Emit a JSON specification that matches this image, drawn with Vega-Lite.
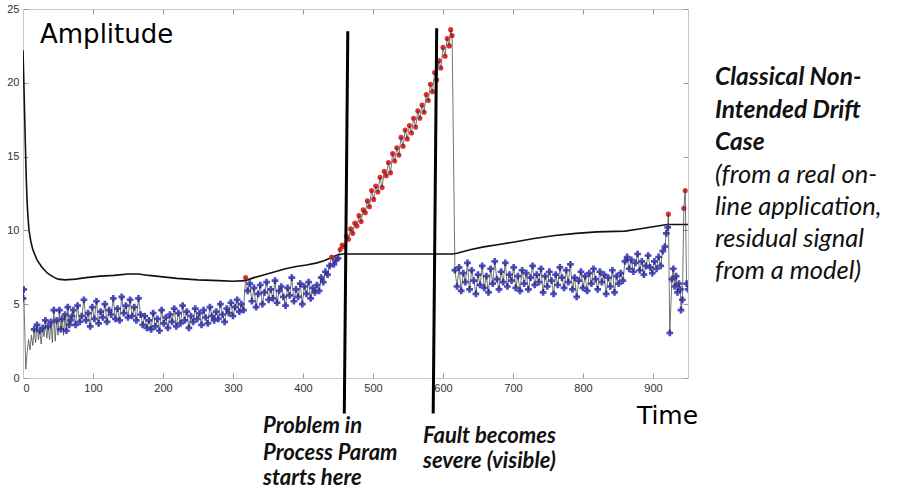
{
"$schema": "https://vega.github.io/schema/vega-lite/v6.json",
"width": 665, "height": 369,
"autosize": {"type": "none"},
"padding": {"left": 23, "top": 9, "right": 209, "bottom": 113},
"background": "white",
"config": {"view": {"stroke": "#c8c8c8", "strokeWidth": 1}},
"datasets": {
"lim": [
{"t":0,"v":22.2},{"t":1.5,"v":19.5},{"t":3,"v":16.5},{"t":4.5,"v":13.8},{"t":5.7,"v":12.1},{"t":7,"v":11},{"t":8.6,"v":10.0},{"t":11,"v":9.3},{"t":14,"v":8.7},{"t":20,"v":8.0},{"t":27,"v":7.5},{"t":35,"v":7.1},{"t":43,"v":6.85},{"t":50,"v":6.7},{"t":60,"v":6.65},{"t":75,"v":6.7},{"t":90,"v":6.8},{"t":110,"v":6.9},{"t":130,"v":6.95},{"t":150,"v":7.05},{"t":165,"v":7.05},{"t":180,"v":6.95},{"t":200,"v":6.85},{"t":220,"v":6.75},{"t":250,"v":6.65},{"t":280,"v":6.6},{"t":300,"v":6.55},{"t":318,"v":6.6},{"t":330,"v":6.8},{"t":345,"v":7.0},{"t":360,"v":7.2},{"t":375,"v":7.4},{"t":390,"v":7.55},{"t":405,"v":7.65},{"t":420,"v":7.8},{"t":430,"v":7.95},{"t":440,"v":8.15},{"t":450,"v":8.35},{"t":456,"v":8.4},{"t":614,"v":8.4},{"t":620,"v":8.45},{"t":640,"v":8.7},{"t":660,"v":8.9},{"t":680,"v":9.05},{"t":700,"v":9.2},{"t":730,"v":9.45},{"t":760,"v":9.65},{"t":790,"v":9.8},{"t":820,"v":9.9},{"t":860,"v":9.95},{"t":880,"v":10.1},{"t":900,"v":10.25},{"t":920,"v":10.4},{"t":950,"v":10.4}
],
"sig": [
{"t":0,"v":5.4,"c":"ok"},{"t":1,"v":6.0,"c":"ok"},{"t":4,"v":0.6,"c":"low"},{"t":6,"v":1.8,"c":"low"},{"t":8,"v":2.6,"c":"low"},{"t":10,"v":1.9,"c":"low"},{"t":12,"v":2.9,"c":"low"},{"t":14,"v":2.2,"c":"low"},{"t":16,"v":3.3,"c":"ok"},{"t":18,"v":2.4,"c":"low"},{"t":20,"v":3.6,"c":"ok"},{"t":22,"v":2.6,"c":"low"},{"t":24,"v":3.2,"c":"ok"},{"t":26,"v":2.3,"c":"low"},{"t":28,"v":3.4,"c":"ok"},{"t":30,"v":2.8,"c":"low"},{"t":32,"v":3.9,"c":"ok"},{"t":34,"v":2.7,"c":"low"},{"t":36,"v":3.5,"c":"ok"},{"t":38,"v":2.6,"c":"low"},{"t":40,"v":3.8,"c":"ok"},{"t":42,"v":2.4,"c":"low"},{"t":44,"v":4.6,"c":"ok"},{"t":46,"v":2.5,"c":"low"},{"t":48,"v":3.9,"c":"ok"},{"t":50,"v":2.9,"c":"low"},{"t":52,"v":4.6,"c":"ok"},{"t":54,"v":3.3,"c":"ok"},{"t":56,"v":4.0,"c":"ok"},{"t":58,"v":2.9,"c":"low"},{"t":60,"v":4.3,"c":"ok"},{"t":62,"v":3.2,"c":"ok"},{"t":64,"v":4.8,"c":"ok"},{"t":66,"v":3.6,"c":"ok"},{"t":68,"v":3.9,"c":"ok"},{"t":70,"v":4.2,"c":"ok"},
{"t":72,"v":4.6,"c":"ok"},{"t":75,"v":3.6,"c":"ok"},{"t":78,"v":4.9,"c":"ok"},{"t":81,"v":3.8,"c":"ok"},{"t":84,"v":4.2,"c":"ok"},{"t":87,"v":5.3,"c":"ok"},{"t":90,"v":3.9,"c":"ok"},{"t":93,"v":4.4,"c":"ok"},{"t":96,"v":3.5,"c":"ok"},{"t":99,"v":4.8,"c":"ok"},{"t":102,"v":4.0,"c":"ok"},{"t":105,"v":5.2,"c":"ok"},{"t":108,"v":3.7,"c":"ok"},{"t":111,"v":4.5,"c":"ok"},{"t":114,"v":4.1,"c":"ok"},{"t":117,"v":5.0,"c":"ok"},{"t":120,"v":3.8,"c":"ok"},{"t":123,"v":4.6,"c":"ok"},{"t":126,"v":4.3,"c":"ok"},{"t":129,"v":5.4,"c":"ok"},{"t":132,"v":4.0,"c":"ok"},{"t":135,"v":4.7,"c":"ok"},{"t":138,"v":3.9,"c":"ok"},{"t":141,"v":5.5,"c":"ok"},{"t":144,"v":4.4,"c":"ok"},{"t":147,"v":4.9,"c":"ok"},{"t":150,"v":4.1,"c":"ok"},{"t":153,"v":5.3,"c":"ok"},{"t":156,"v":4.2,"c":"ok"},{"t":159,"v":4.8,"c":"ok"},{"t":162,"v":3.9,"c":"ok"},{"t":165,"v":5.4,"c":"ok"},{"t":168,"v":4.3,"c":"ok"},
{"t":171,"v":3.6,"c":"ok"},{"t":174,"v":4.2,"c":"ok"},{"t":177,"v":3.4,"c":"ok"},{"t":180,"v":3.9,"c":"ok"},{"t":183,"v":3.3,"c":"ok"},{"t":186,"v":4.4,"c":"ok"},{"t":189,"v":3.5,"c":"ok"},{"t":192,"v":4.0,"c":"ok"},{"t":195,"v":3.2,"c":"ok"},{"t":198,"v":4.6,"c":"ok"},{"t":201,"v":3.7,"c":"ok"},{"t":204,"v":4.1,"c":"ok"},{"t":207,"v":3.4,"c":"ok"},{"t":210,"v":4.3,"c":"ok"},{"t":213,"v":3.8,"c":"ok"},{"t":216,"v":4.7,"c":"ok"},{"t":219,"v":3.5,"c":"ok"},
{"t":222,"v":4.4,"c":"ok"},{"t":225,"v":3.7,"c":"ok"},{"t":228,"v":4.9,"c":"ok"},{"t":231,"v":3.9,"c":"ok"},{"t":234,"v":4.5,"c":"ok"},{"t":237,"v":3.4,"c":"ok"},{"t":240,"v":4.2,"c":"ok"},{"t":243,"v":3.8,"c":"ok"},{"t":246,"v":4.7,"c":"ok"},{"t":249,"v":4.0,"c":"ok"},{"t":252,"v":4.4,"c":"ok"},{"t":255,"v":3.6,"c":"ok"},{"t":258,"v":4.6,"c":"ok"},{"t":261,"v":4.1,"c":"ok"},{"t":264,"v":3.7,"c":"ok"},{"t":267,"v":4.8,"c":"ok"},{"t":270,"v":4.2,"c":"ok"},{"t":273,"v":3.9,"c":"ok"},{"t":276,"v":4.5,"c":"ok"},{"t":279,"v":4.0,"c":"ok"},{"t":282,"v":5.0,"c":"ok"},{"t":285,"v":4.3,"c":"ok"},{"t":288,"v":3.8,"c":"ok"},{"t":291,"v":4.7,"c":"ok"},{"t":294,"v":4.4,"c":"ok"},{"t":297,"v":5.1,"c":"ok"},{"t":300,"v":4.2,"c":"ok"},{"t":303,"v":4.8,"c":"ok"},{"t":306,"v":5.3,"c":"ok"},{"t":309,"v":4.5,"c":"ok"},{"t":312,"v":5.0,"c":"ok"},{"t":315,"v":4.6,"c":"ok"},{"t":318,"v":6.8,"c":"alarm"},
{"t":321,"v":5.9,"c":"ok"},{"t":324,"v":6.4,"c":"ok"},{"t":327,"v":5.2,"c":"ok"},{"t":330,"v":6.1,"c":"ok"},{"t":333,"v":4.8,"c":"ok"},{"t":336,"v":5.7,"c":"ok"},{"t":339,"v":6.3,"c":"ok"},{"t":342,"v":5.0,"c":"ok"},{"t":345,"v":5.8,"c":"ok"},{"t":348,"v":6.5,"c":"ok"},{"t":351,"v":5.3,"c":"ok"},{"t":354,"v":6.0,"c":"ok"},{"t":357,"v":5.4,"c":"ok"},{"t":360,"v":6.6,"c":"ok"},{"t":363,"v":5.1,"c":"ok"},{"t":366,"v":5.9,"c":"ok"},{"t":369,"v":6.2,"c":"ok"},{"t":372,"v":5.5,"c":"ok"},{"t":375,"v":4.9,"c":"ok"},{"t":378,"v":6.1,"c":"ok"},{"t":381,"v":5.6,"c":"ok"},{"t":384,"v":6.8,"c":"ok"},{"t":387,"v":5.2,"c":"ok"},{"t":390,"v":6.0,"c":"ok"},{"t":393,"v":5.5,"c":"ok"},{"t":396,"v":6.4,"c":"ok"},{"t":399,"v":5.0,"c":"ok"},{"t":402,"v":6.2,"c":"ok"},{"t":405,"v":5.7,"c":"ok"},{"t":408,"v":6.5,"c":"ok"},{"t":411,"v":5.4,"c":"ok"},{"t":414,"v":6.1,"c":"ok"},{"t":417,"v":5.8,"c":"ok"},{"t":420,"v":6.3,"c":"ok"},{"t":423,"v":5.9,"c":"ok"},{"t":426,"v":6.8,"c":"ok"},{"t":429,"v":6.5,"c":"ok"},{"t":432,"v":7.2,"c":"ok"},{"t":435,"v":7.0,"c":"ok"},{"t":438,"v":7.6,"c":"ok"},{"t":441,"v":8.2,"c":"alarm"},{"t":444,"v":7.7,"c":"ok"},{"t":447,"v":8.0,"c":"ok"},{"t":450,"v":8.1,"c":"ok"},
{"t":453,"v":8.7,"c":"alarm"},{"t":456,"v":9.0,"c":"alarm"},{"t":459,"v":8.9,"c":"alarm"},{"t":462,"v":9.6,"c":"alarm"},{"t":465,"v":9.4,"c":"alarm"},{"t":468,"v":10.1,"c":"alarm"},{"t":471,"v":9.8,"c":"alarm"},{"t":474,"v":10.5,"c":"alarm"},{"t":477,"v":10.3,"c":"alarm"},{"t":480,"v":11.0,"c":"alarm"},{"t":483,"v":10.6,"c":"alarm"},{"t":486,"v":11.4,"c":"alarm"},{"t":489,"v":11.2,"c":"alarm"},{"t":492,"v":12.0,"c":"alarm"},{"t":495,"v":11.6,"c":"alarm"},{"t":498,"v":12.7,"c":"alarm"},{"t":501,"v":12.1,"c":"alarm"},{"t":504,"v":13.0,"c":"alarm"},{"t":507,"v":12.6,"c":"alarm"},{"t":510,"v":13.6,"c":"alarm"},{"t":513,"v":12.9,"c":"alarm"},{"t":516,"v":14.0,"c":"alarm"},{"t":519,"v":13.7,"c":"alarm"},{"t":522,"v":14.6,"c":"alarm"},{"t":525,"v":13.9,"c":"alarm"},{"t":528,"v":15.2,"c":"alarm"},{"t":531,"v":14.7,"c":"alarm"},{"t":534,"v":15.6,"c":"alarm"},{"t":537,"v":15.1,"c":"alarm"},{"t":540,"v":16.3,"c":"alarm"},{"t":543,"v":15.7,"c":"alarm"},{"t":546,"v":16.8,"c":"alarm"},{"t":549,"v":16.2,"c":"alarm"},{"t":552,"v":17.1,"c":"alarm"},{"t":555,"v":16.6,"c":"alarm"},{"t":558,"v":17.6,"c":"alarm"},{"t":561,"v":17.0,"c":"alarm"},{"t":564,"v":18.1,"c":"alarm"},{"t":567,"v":17.6,"c":"alarm"},{"t":570,"v":18.5,"c":"alarm"},{"t":573,"v":18.0,"c":"alarm"},{"t":576,"v":19.2,"c":"alarm"},{"t":579,"v":18.8,"c":"alarm"},{"t":582,"v":19.9,"c":"alarm"},{"t":585,"v":19.4,"c":"alarm"},{"t":588,"v":20.7,"c":"alarm"},{"t":591,"v":20.2,"c":"alarm"},{"t":594,"v":21.5,"c":"alarm"},{"t":597,"v":21.0,"c":"alarm"},{"t":600,"v":22.4,"c":"alarm"},{"t":603,"v":21.8,"c":"alarm"},{"t":606,"v":23.0,"c":"alarm"},{"t":609,"v":22.5,"c":"alarm"},{"t":611,"v":23.6,"c":"alarm"},{"t":613,"v":23.2,"c":"alarm"},
{"t":617,"v":7.3,"c":"ok"},{"t":620,"v":6.2,"c":"ok"},{"t":623,"v":7.5,"c":"ok"},{"t":626,"v":5.9,"c":"ok"},{"t":629,"v":7.1,"c":"ok"},{"t":632,"v":6.5,"c":"ok"},{"t":635,"v":7.8,"c":"ok"},{"t":638,"v":6.0,"c":"ok"},{"t":641,"v":7.3,"c":"ok"},{"t":644,"v":6.6,"c":"ok"},{"t":647,"v":5.7,"c":"ok"},{"t":650,"v":7.0,"c":"ok"},{"t":653,"v":6.3,"c":"ok"},{"t":656,"v":7.6,"c":"ok"},{"t":659,"v":6.1,"c":"ok"},{"t":662,"v":6.9,"c":"ok"},{"t":665,"v":5.8,"c":"ok"},{"t":668,"v":7.4,"c":"ok"},{"t":671,"v":6.4,"c":"ok"},{"t":674,"v":7.9,"c":"ok"},{"t":677,"v":6.7,"c":"ok"},{"t":680,"v":6.0,"c":"ok"},{"t":683,"v":7.2,"c":"ok"},{"t":686,"v":6.5,"c":"ok"},{"t":689,"v":7.8,"c":"ok"},{"t":692,"v":6.2,"c":"ok"},{"t":695,"v":7.0,"c":"ok"},{"t":698,"v":6.6,"c":"ok"},{"t":701,"v":7.5,"c":"ok"},{"t":704,"v":6.1,"c":"ok"},{"t":707,"v":6.9,"c":"ok"},{"t":710,"v":5.9,"c":"ok"},{"t":713,"v":7.3,"c":"ok"},{"t":716,"v":6.4,"c":"ok"},{"t":719,"v":7.1,"c":"ok"},{"t":722,"v":6.0,"c":"ok"},{"t":725,"v":6.8,"c":"ok"},{"t":728,"v":7.6,"c":"ok"},{"t":731,"v":6.3,"c":"ok"},{"t":734,"v":7.0,"c":"ok"},{"t":737,"v":6.5,"c":"ok"},{"t":740,"v":7.4,"c":"ok"},{"t":743,"v":5.8,"c":"ok"},{"t":746,"v":6.9,"c":"ok"},{"t":749,"v":6.2,"c":"ok"},{"t":752,"v":7.2,"c":"ok"},{"t":755,"v":6.6,"c":"ok"},{"t":758,"v":5.7,"c":"ok"},{"t":761,"v":7.0,"c":"ok"},{"t":764,"v":6.3,"c":"ok"},{"t":767,"v":7.5,"c":"ok"},{"t":770,"v":6.8,"c":"ok"},{"t":773,"v":6.1,"c":"ok"},{"t":776,"v":7.3,"c":"ok"},{"t":779,"v":6.5,"c":"ok"},{"t":782,"v":7.7,"c":"ok"},{"t":785,"v":6.0,"c":"ok"},{"t":788,"v":6.8,"c":"ok"},{"t":791,"v":5.5,"c":"ok"},{"t":794,"v":6.6,"c":"ok"},{"t":797,"v":7.2,"c":"ok"},{"t":800,"v":6.1,"c":"ok"},{"t":803,"v":6.9,"c":"ok"},{"t":806,"v":5.9,"c":"ok"},{"t":809,"v":7.1,"c":"ok"},{"t":812,"v":6.4,"c":"ok"},{"t":815,"v":7.4,"c":"ok"},{"t":818,"v":6.7,"c":"ok"},{"t":821,"v":6.0,"c":"ok"},{"t":824,"v":7.2,"c":"ok"},{"t":827,"v":6.5,"c":"ok"},{"t":830,"v":7.0,"c":"ok"},{"t":833,"v":5.7,"c":"ok"},{"t":836,"v":6.8,"c":"ok"},{"t":839,"v":6.2,"c":"ok"},{"t":842,"v":7.3,"c":"ok"},{"t":845,"v":5.8,"c":"ok"},{"t":848,"v":6.9,"c":"ok"},{"t":851,"v":6.4,"c":"ok"},{"t":854,"v":7.1,"c":"ok"},{"t":857,"v":6.6,"c":"ok"},
{"t":860,"v":7.9,"c":"ok"},{"t":863,"v":8.2,"c":"ok"},{"t":866,"v":7.4,"c":"ok"},{"t":869,"v":8.0,"c":"ok"},{"t":872,"v":7.2,"c":"ok"},{"t":875,"v":7.8,"c":"ok"},{"t":878,"v":8.4,"c":"ok"},{"t":881,"v":7.3,"c":"ok"},{"t":884,"v":7.9,"c":"ok"},{"t":887,"v":7.0,"c":"ok"},{"t":890,"v":7.6,"c":"ok"},{"t":893,"v":8.3,"c":"ok"},{"t":896,"v":7.5,"c":"ok"},{"t":899,"v":7.1,"c":"ok"},{"t":902,"v":7.9,"c":"ok"},{"t":905,"v":7.4,"c":"ok"},{"t":908,"v":8.2,"c":"ok"},{"t":911,"v":7.6,"c":"ok"},{"t":914,"v":8.6,"c":"ok"},{"t":917,"v":8.9,"c":"ok"},{"t":919,"v":9.8,"c":"ok"},{"t":921,"v":10.2,"c":"ok"},{"t":922,"v":11.1,"c":"alarm"},{"t":924,"v":3.05,"c":"ok"},{"t":927,"v":6.7,"c":"ok"},{"t":929,"v":7.4,"c":"ok"},{"t":931,"v":6.2,"c":"ok"},{"t":933,"v":6.9,"c":"ok"},{"t":935,"v":5.8,"c":"ok"},{"t":937,"v":6.4,"c":"ok"},{"t":939,"v":6.0,"c":"ok"},{"t":940,"v":4.6,"c":"ok"},{"t":942,"v":5.3,"c":"ok"},{"t":944,"v":11.5,"c":"alarm"},{"t":946,"v":12.7,"c":"alarm"},{"t":948,"v":6.4,"c":"ok"},{"t":950,"v":6.0,"c":"ok"}
]
},
"layer": [
{
"mark": {"type": "rule", "color": "#3434c4", "strokeWidth": 1.3},
"encoding": {"y": {"datum": 3, "type": "quantitative", "scale": {"domain": [0, 25], "nice": false}, "axis": null}}
},
{
"data": {"name": "lim"},
"mark": {"type": "line", "color": "#111", "strokeWidth": 1.6, "clip": true},
"encoding": {
"x": {"field": "t", "type": "quantitative", "scale": {"domain": [0, 950], "nice": false},
"axis": {"orient": "bottom", "title": null, "values": [0,100,200,300,400,500,600,700,800,900], "grid": false, "domainColor": "#c8c8c8", "tickColor": "#999", "tickSize": -5, "labelPadding": 9, "labelFont": "Liberation Sans", "labelFontSize": 11, "labelColor": "#333"}},
"y": {"field": "v", "type": "quantitative", "scale": {"domain": [0, 25], "nice": false},
"axis": {"orient": "left", "title": null, "values": [0,5,10,15,20,25], "grid": false, "domainColor": "#c8c8c8", "tickColor": "#999", "tickSize": -5, "labelPadding": 9, "labelFont": "Liberation Sans", "labelFontSize": 11, "labelColor": "#333"}}
}
},
{
"data": {"name": "sig"},
"transform": [{"filter": "datum.c === 'ok'"}],
"mark": {"type": "point", "shape": "cross", "filled": true, "size": 45, "color": "#3636bd", "opacity": 0.9, "clip": true},
"encoding": {
"x": {"field": "t", "type": "quantitative", "scale": {"domain": [0, 950], "nice": false}, "axis": null},
"y": {"field": "v", "type": "quantitative", "scale": {"domain": [0, 25], "nice": false}, "axis": null}
}
},
{
"data": {"name": "sig"},
"transform": [{"filter": "datum.c === 'alarm'"}],
"mark": {"type": "point", "shape": "circle", "filled": true, "size": 26, "color": "#e02424", "opacity": 0.95, "clip": true},
"encoding": {
"x": {"field": "t", "type": "quantitative", "scale": {"domain": [0, 950], "nice": false}, "axis": null},
"y": {"field": "v", "type": "quantitative", "scale": {"domain": [0, 25], "nice": false}, "axis": null}
}
},
{
"data": {"name": "sig"},
"mark": {"type": "line", "color": "#333", "strokeWidth": 0.8, "opacity": 0.85, "clip": true},
"encoding": {
"x": {"field": "t", "type": "quantitative", "scale": {"domain": [0, 950], "nice": false},
"axis": {"orient": "top", "title": null, "values": [0,100,200,300,400,500,600,700,800,900], "grid": false, "labels": false, "domainColor": "#c8c8c8", "tickColor": "#999", "tickSize": -5}},
"y": {"field": "v", "type": "quantitative", "scale": {"domain": [0, 25], "nice": false},
"axis": {"orient": "right", "title": null, "values": [0,5,10,15,20,25], "grid": false, "labels": false, "domainColor": "#c8c8c8", "tickColor": "#999", "tickSize": -5}}
}
},
{
"data": {"values": [{"t": 464, "v": 23.5, "t2": 459, "v2": -2.4}, {"t": 591, "v": 23.7, "t2": 586, "v2": -2.4}]},
"mark": {"type": "rule", "color": "#000", "strokeWidth": 3, "clip": false},
"encoding": {
"x": {"field": "t", "type": "quantitative", "scale": {"domain": [0, 950], "nice": false}, "axis": null},
"x2": {"field": "t2"},
"y": {"field": "v", "type": "quantitative", "scale": {"domain": [0, 25], "nice": false}, "axis": null},
"y2": {"field": "v2"}
}
},
{
"data": {"values": [{"t": 24.3, "v": 22.7, "label": "Amplitude"}]},
"mark": {"type": "text", "font": "DejaVu Sans", "fontSize": 26, "align": "left", "baseline": "alphabetic", "color": "#000", "clip": false},
"encoding": {
"x": {"field": "t", "type": "quantitative", "scale": {"domain": [0, 950], "nice": false}, "axis": null},
"y": {"field": "v", "type": "quantitative", "scale": {"domain": [0, 25], "nice": false}, "axis": null},
"text": {"field": "label"}
}
},
{
"data": {"values": [{"t": 877, "v": -3.12, "label": "Time"}]},
"mark": {"type": "text", "font": "DejaVu Sans", "fontSize": 25, "align": "left", "baseline": "alphabetic", "color": "#000", "clip": false},
"encoding": {
"x": {"field": "t", "type": "quantitative", "scale": {"domain": [0, 950], "nice": false}, "axis": null},
"y": {"field": "v", "type": "quantitative", "scale": {"domain": [0, 25], "nice": false}, "axis": null},
"text": {"field": "label"}
}
},
{
"data": {"values": [
{"t": 342.9, "v": -3.73, "label": "Problem in"}, {"t": 342.9, "v": -5.56, "label": "Process Param"}, {"t": 342.9, "v": -7.25, "label": "starts here"},
{"t": 571.4, "v": -4.4, "label": "Fault becomes"}, {"t": 571.4, "v": -6.1, "label": "severe (visible)"}
]},
"mark": {"type": "text", "font": "Lato", "fontSize": 22, "fontStyle": "italic", "fontWeight": "bold", "align": "left", "baseline": "alphabetic", "color": "#111", "clip": false},
"encoding": {
"x": {"field": "t", "type": "quantitative", "scale": {"domain": [0, 950], "nice": false}, "axis": null},
"y": {"field": "v", "type": "quantitative", "scale": {"domain": [0, 25], "nice": false}, "axis": null},
"text": {"field": "label"}
}
},
{
"data": {"values": [
{"t": 988.6, "v": 19.85, "label": "Classical Non-"}, {"t": 988.6, "v": 17.62, "label": "Intended Drift"}, {"t": 988.6, "v": 15.45, "label": "Case"}
]},
"mark": {"type": "text", "font": "Lato", "fontSize": 24.5, "fontStyle": "italic", "fontWeight": "bold", "align": "left", "baseline": "alphabetic", "color": "#111", "clip": false},
"encoding": {
"x": {"field": "t", "type": "quantitative", "scale": {"domain": [0, 950], "nice": false}, "axis": null},
"y": {"field": "v", "type": "quantitative", "scale": {"domain": [0, 25], "nice": false}, "axis": null},
"text": {"field": "label"}
}
},
{
"data": {"values": [
{"t": 988.6, "v": 13.21, "label": "(from a real on-"}, {"t": 988.6, "v": 11.04, "label": "line application,"}, {"t": 988.6, "v": 8.88, "label": "residual signal"}, {"t": 988.6, "v": 6.71, "label": "from a model)"}
]},
"mark": {"type": "text", "font": "Lato", "fontSize": 25.5, "fontStyle": "italic", "fontWeight": "normal", "align": "left", "baseline": "alphabetic", "color": "#111", "clip": false},
"encoding": {
"x": {"field": "t", "type": "quantitative", "scale": {"domain": [0, 950], "nice": false}, "axis": null},
"y": {"field": "v", "type": "quantitative", "scale": {"domain": [0, 25], "nice": false}, "axis": null},
"text": {"field": "label"}
}
}
],
"resolve": {"axis": {"x": "independent", "y": "independent"}}
}
